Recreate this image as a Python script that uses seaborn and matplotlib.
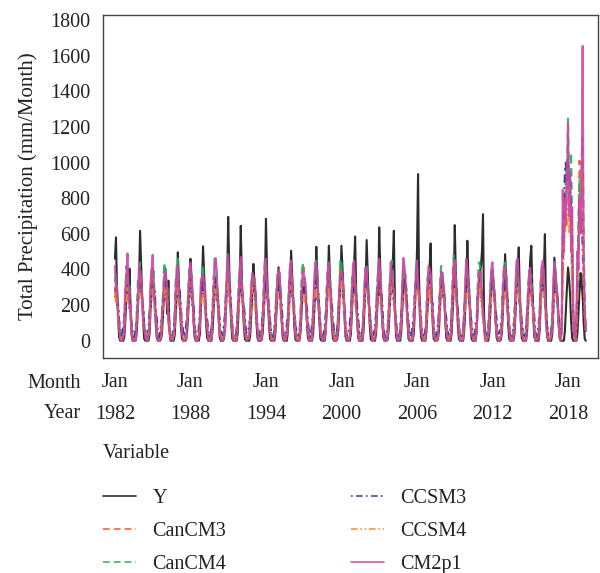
import numpy as np
import pandas as pd
import matplotlib
matplotlib.use("Agg")
import matplotlib.pyplot as plt
import seaborn as sns

# ---------------- data (monthly, Jan 1982 - Jun 2019), one row per year -------------
Y = [
    [460, 580, 300, 150, 20, 0, 0, 0, 0, 20, 120, 250],
    [280, 230, 404, 160, 30, 0, 0, 0, 5, 60, 200, 320],
    [617, 420, 250, 100, 10, 0, 0, 0, 0, 40, 180, 300],
    [380, 300, 220, 90, 15, 0, 0, 0, 10, 50, 160, 270],
    [404, 250, 150, 337, 60, 0, 0, 0, 0, 30, 150, 260],
    [496, 320, 200, 80, 10, 0, 0, 0, 5, 60, 170, 290],
    [460, 330, 250, 110, 20, 0, 0, 0, 0, 40, 190, 310],
    [530, 380, 220, 90, 15, 0, 0, 0, 0, 50, 160, 280],
    [330, 300, 260, 120, 20, 0, 0, 0, 10, 70, 200, 300],
    [695, 400, 230, 90, 10, 0, 0, 0, 0, 40, 180, 320],
    [645, 350, 200, 80, 10, 0, 0, 0, 0, 30, 150, 270],
    [431, 320, 250, 100, 15, 0, 0, 0, 5, 50, 170, 300],
    [684, 400, 220, 90, 10, 0, 0, 0, 0, 40, 160, 280],
    [412, 330, 260, 120, 20, 0, 0, 0, 0, 60, 190, 310],
    [505, 360, 230, 90, 10, 0, 0, 0, 5, 50, 170, 280],
    [300, 280, 240, 110, 20, 0, 0, 0, 0, 40, 160, 290],
    [527, 360, 230, 100, 10, 0, 0, 0, 0, 50, 180, 320],
    [533, 350, 210, 80, 10, 0, 0, 0, 10, 60, 200, 330],
    [533, 400, 280, 120, 20, 0, 0, 0, 0, 40, 170, 300],
    [420, 585, 300, 110, 15, 0, 0, 0, 0, 50, 190, 310],
    [565, 380, 220, 90, 10, 0, 0, 0, 0, 40, 160, 280],
    [636, 400, 240, 100, 15, 0, 0, 0, 5, 60, 180, 300],
    [380, 450, 617, 200, 30, 0, 0, 0, 0, 50, 170, 290],
    [350, 300, 240, 100, 10, 0, 0, 0, 0, 40, 180, 320],
    [500, 935, 350, 120, 20, 0, 0, 0, 0, 50, 170, 300],
    [400, 546, 260, 100, 10, 0, 0, 0, 5, 60, 190, 310],
    [380, 320, 250, 110, 15, 0, 0, 0, 0, 40, 160, 280],
    [649, 380, 230, 90, 10, 0, 0, 0, 0, 50, 180, 300],
    [561, 360, 250, 100, 15, 0, 0, 0, 0, 60, 200, 320],
    [380, 420, 500, 710, 150, 10, 0, 0, 0, 40, 170, 290],
    [400, 330, 260, 110, 15, 0, 0, 0, 5, 50, 180, 300],
    [486, 350, 230, 90, 10, 0, 0, 0, 0, 40, 170, 290],
    [380, 524, 280, 110, 15, 0, 0, 0, 0, 50, 190, 310],
    [460, 533, 300, 120, 20, 0, 0, 0, 0, 60, 200, 320],
    [350, 400, 598, 200, 30, 0, 0, 0, 0, 40, 170, 466],
    [380, 300, 250, 100, 15, 0, 0, 0, 0, 50, 180, 300],
    [411, 350, 260, 110, 15, 0, 0, 0, 0, 40, 160, 280],
    [380, 320, 250, 100, 10, 0],
]

CanCM3 = [
    [300, 220, 280, 150, 110, 40, 20, 10, 60, 90, 260, 310],
    [380, 250, 300, 120, 90, 20, 10, 30, 50, 160, 230, 350],
    [290, 330, 210, 170, 60, 40, 0, 20, 30, 100, 280, 300],
    [410, 260, 240, 130, 100, 30, 10, 0, 70, 150, 210, 360],
    [320, 300, 190, 180, 70, 50, 20, 10, 40, 120, 290, 280],
    [370, 240, 280, 110, 90, 20, 0, 20, 60, 140, 240, 390],
    [300, 340, 220, 160, 60, 40, 10, 0, 30, 100, 300, 320],
    [390, 230, 260, 120, 110, 30, 20, 10, 70, 170, 220, 340],
    [310, 320, 200, 190, 80, 50, 0, 20, 50, 110, 270, 300],
    [400, 250, 290, 130, 60, 20, 10, 0, 40, 150, 250, 380],
    [290, 330, 210, 170, 100, 40, 20, 10, 60, 130, 300, 310],
    [360, 270, 250, 110, 70, 30, 0, 20, 30, 160, 230, 400],
    [330, 300, 190, 180, 90, 50, 10, 0, 70, 100, 280, 290],
    [380, 240, 280, 140, 60, 20, 20, 10, 50, 140, 260, 350],
    [300, 350, 220, 160, 110, 40, 0, 20, 40, 120, 310, 320],
    [410, 260, 240, 120, 80, 30, 10, 0, 60, 170, 220, 370],
    [320, 310, 200, 190, 70, 50, 20, 10, 30, 110, 290, 300],
    [370, 250, 290, 130, 100, 20, 0, 20, 70, 150, 240, 420],
    [340, 330, 230, 170, 60, 40, 10, 0, 50, 130, 300, 310],
    [390, 260, 260, 110, 90, 30, 20, 10, 40, 160, 230, 360],
    [310, 320, 190, 180, 80, 50, 0, 20, 60, 100, 280, 330],
    [400, 240, 280, 140, 60, 20, 10, 0, 30, 150, 250, 350],
    [300, 340, 220, 160, 110, 40, 20, 10, 70, 120, 310, 380],
    [420, 270, 250, 120, 70, 30, 0, 20, 50, 170, 220, 340],
    [320, 310, 200, 190, 90, 50, 10, 0, 40, 110, 290, 300],
    [370, 250, 290, 130, 60, 20, 20, 10, 60, 140, 260, 390],
    [330, 330, 210, 170, 100, 40, 0, 20, 30, 130, 300, 320],
    [390, 260, 260, 110, 80, 30, 10, 0, 70, 160, 230, 360],
    [310, 320, 190, 180, 70, 50, 20, 10, 50, 100, 280, 310],
    [380, 240, 280, 140, 90, 20, 0, 20, 40, 150, 250, 370],
    [300, 340, 230, 160, 60, 40, 10, 0, 60, 120, 310, 340],
    [410, 270, 250, 120, 110, 30, 20, 10, 30, 170, 220, 350],
    [320, 310, 200, 190, 80, 50, 0, 20, 70, 110, 290, 300],
    [360, 250, 290, 130, 70, 20, 10, 0, 50, 140, 260, 380],
    [330, 330, 210, 170, 90, 40, 20, 10, 40, 130, 300, 320],
    [330, 280, 230, 120, 50, 20, 40, 400, 600, 700, 800, 900],
    [1000, 950, 800, 600, 400, 100, 30, 10, 60, 300, 600, 1010],
    [900, 800, 700, 500, 200, 80],
]

CanCM4 = [
    [330, 380, 240, 200, 90, 30, 10, 0, 40, 150, 280, 420],
    [360, 300, 310, 140, 70, 10, 0, 20, 60, 170, 350, 330],
    [440, 280, 250, 190, 100, 30, 0, 0, 30, 120, 300, 410],
    [350, 390, 220, 150, 60, 20, 10, 10, 50, 180, 270, 440],
    [400, 290, 300, 170, 80, 30, 0, 0, 40, 130, 340, 360],
    [460, 310, 230, 140, 90, 10, 0, 20, 60, 160, 290, 420],
    [340, 370, 270, 200, 70, 30, 10, 0, 30, 140, 320, 380],
    [430, 300, 240, 150, 100, 20, 0, 10, 50, 170, 360, 350],
    [470, 330, 290, 180, 60, 30, 0, 0, 40, 120, 280, 430],
    [370, 380, 220, 140, 80, 10, 10, 20, 60, 160, 330, 400],
    [420, 290, 260, 190, 90, 30, 0, 0, 30, 150, 300, 360],
    [350, 360, 300, 150, 70, 20, 0, 10, 50, 130, 350, 450],
    [440, 300, 230, 170, 100, 30, 10, 0, 40, 170, 270, 380],
    [380, 390, 280, 140, 60, 10, 0, 20, 60, 140, 320, 410],
    [410, 280, 250, 200, 80, 30, 0, 0, 30, 160, 360, 440],
    [360, 350, 300, 150, 90, 20, 10, 10, 50, 120, 290, 370],
    [450, 310, 220, 180, 70, 30, 0, 0, 40, 150, 330, 420],
    [390, 380, 270, 140, 100, 10, 0, 20, 60, 180, 300, 460],
    [440, 300, 290, 190, 60, 30, 10, 0, 30, 130, 350, 390],
    [370, 360, 240, 150, 80, 20, 0, 10, 50, 160, 280, 430],
    [420, 290, 260, 170, 90, 30, 0, 0, 40, 140, 320, 400],
    [380, 390, 300, 140, 70, 10, 10, 20, 60, 170, 340, 360],
    [450, 300, 230, 200, 100, 30, 0, 0, 30, 120, 300, 440],
    [360, 370, 280, 150, 60, 20, 0, 10, 50, 150, 270, 410],
    [430, 310, 250, 180, 80, 30, 10, 0, 40, 160, 350, 380],
    [390, 350, 300, 140, 90, 10, 0, 20, 60, 130, 310, 420],
    [410, 290, 220, 190, 70, 30, 0, 0, 30, 180, 360, 480],
    [460, 380, 270, 150, 100, 20, 10, 10, 50, 140, 290, 400],
    [370, 300, 290, 170, 60, 30, 0, 0, 40, 120, 330, 440],
    [420, 360, 240, 140, 80, 10, 0, 20, 60, 170, 300, 390],
    [380, 290, 260, 200, 90, 30, 10, 0, 30, 150, 340, 420],
    [440, 390, 300, 150, 70, 20, 0, 10, 50, 160, 280, 450],
    [400, 300, 230, 180, 100, 30, 0, 0, 40, 130, 320, 380],
    [360, 370, 280, 140, 60, 10, 10, 20, 60, 180, 350, 410],
    [430, 310, 250, 190, 80, 30, 0, 0, 30, 140, 300, 440],
    [400, 320, 250, 120, 40, 10, 50, 600, 800, 700, 1000, 900],
    [1247, 800, 900, 1057, 600, 100, 20, 0, 100, 400, 700, 900],
    [800, 1000, 1140, 600, 200, 50],
]

CCSM3 = [
    [240, 300, 200, 210, 120, 60, 30, 50, 80, 140, 180, 280],
    [310, 230, 260, 160, 100, 40, 20, 30, 90, 110, 250, 240],
    [280, 320, 210, 190, 80, 60, 40, 20, 70, 160, 200, 300],
    [250, 270, 290, 150, 130, 50, 20, 40, 100, 120, 260, 270],
    [330, 240, 220, 200, 90, 30, 30, 30, 60, 150, 190, 310],
    [260, 310, 270, 170, 110, 60, 20, 50, 90, 130, 280, 250],
    [300, 250, 200, 210, 80, 40, 40, 20, 80, 170, 210, 330],
    [270, 340, 260, 140, 120, 50, 20, 30, 70, 110, 240, 280],
    [350, 230, 230, 190, 100, 60, 30, 40, 100, 150, 270, 260],
    [260, 300, 280, 160, 90, 30, 20, 20, 60, 140, 200, 320],
    [310, 260, 210, 200, 130, 50, 40, 50, 90, 120, 290, 270],
    [280, 320, 250, 150, 80, 60, 20, 30, 80, 170, 220, 300],
    [340, 240, 270, 180, 110, 40, 30, 20, 70, 130, 250, 290],
    [270, 330, 220, 210, 100, 30, 20, 40, 100, 150, 210, 340],
    [300, 250, 260, 160, 90, 60, 40, 30, 60, 110, 280, 260],
    [320, 310, 200, 190, 120, 50, 20, 50, 90, 160, 230, 310],
    [350, 230, 280, 150, 80, 40, 30, 20, 80, 140, 200, 300],
    [280, 300, 240, 200, 110, 60, 20, 30, 70, 120, 270, 360],
    [370, 290, 210, 170, 100, 30, 40, 40, 100, 170, 250, 280],
    [300, 260, 270, 190, 130, 50, 20, 20, 60, 130, 220, 330],
    [270, 340, 230, 150, 80, 60, 30, 50, 90, 150, 290, 310],
    [330, 240, 260, 200, 90, 40, 20, 30, 80, 110, 210, 270],
    [290, 300, 200, 180, 120, 30, 40, 20, 70, 160, 240, 320],
    [310, 320, 280, 160, 100, 60, 20, 40, 100, 140, 260, 340],
    [280, 250, 250, 190, 110, 50, 30, 30, 60, 120, 190, 290],
    [340, 310, 220, 210, 80, 40, 20, 50, 90, 170, 280, 300],
    [300, 230, 270, 150, 130, 60, 40, 20, 80, 130, 220, 310],
    [290, 330, 240, 180, 90, 30, 20, 30, 70, 150, 250, 350],
    [360, 280, 200, 160, 100, 50, 30, 40, 100, 110, 270, 270],
    [270, 260, 290, 200, 110, 60, 20, 20, 60, 160, 200, 320],
    [320, 310, 230, 170, 120, 40, 40, 50, 90, 140, 290, 330],
    [300, 240, 260, 190, 80, 30, 20, 30, 80, 120, 230, 280],
    [280, 320, 210, 150, 100, 60, 30, 20, 70, 170, 240, 300],
    [340, 290, 270, 200, 130, 50, 20, 40, 100, 130, 260, 310],
    [310, 260, 220, 180, 90, 40, 30, 30, 60, 110, 210, 290],
    [300, 260, 220, 150, 80, 40, 60, 500, 700, 950, 1000, 900],
    [1010, 900, 950, 700, 500, 150, 50, 20, 80, 300, 500, 757],
    [600, 700, 500, 300, 150, 50],
]

CCSM4 = [
    [260, 220, 230, 110, 80, 20, 0, 10, 30, 60, 200, 230],
    [300, 200, 170, 140, 40, 10, 10, 0, 20, 110, 170, 280],
    [250, 270, 220, 100, 70, 30, 0, 10, 40, 80, 220, 220],
    [290, 210, 160, 130, 50, 10, 0, 0, 10, 120, 180, 300],
    [240, 280, 230, 110, 80, 20, 10, 10, 30, 70, 210, 240],
    [310, 200, 180, 150, 40, 30, 0, 0, 20, 100, 160, 270],
    [260, 260, 240, 100, 60, 10, 0, 10, 40, 90, 230, 230],
    [280, 220, 160, 120, 70, 20, 10, 0, 10, 120, 190, 290],
    [230, 290, 220, 140, 50, 30, 0, 10, 30, 60, 200, 260],
    [320, 210, 190, 100, 80, 10, 0, 0, 20, 110, 170, 250],
    [250, 270, 230, 130, 40, 20, 10, 10, 40, 80, 220, 300],
    [290, 200, 170, 110, 70, 30, 0, 0, 10, 130, 180, 240],
    [260, 280, 240, 150, 50, 10, 0, 10, 30, 70, 210, 280],
    [240, 230, 160, 100, 80, 20, 10, 0, 20, 100, 160, 260],
    [310, 260, 220, 140, 40, 30, 0, 10, 40, 90, 230, 230],
    [270, 210, 190, 120, 60, 10, 0, 0, 10, 120, 190, 310],
    [250, 290, 230, 100, 70, 20, 10, 10, 30, 60, 200, 250],
    [300, 200, 170, 150, 50, 30, 0, 0, 20, 110, 170, 270],
    [330, 270, 240, 110, 80, 10, 0, 10, 40, 80, 220, 240],
    [260, 220, 160, 130, 40, 20, 10, 0, 10, 130, 180, 290],
    [280, 280, 220, 100, 70, 30, 0, 10, 30, 70, 210, 260],
    [240, 210, 190, 140, 50, 10, 0, 0, 20, 100, 160, 300],
    [300, 260, 240, 120, 80, 20, 10, 10, 40, 90, 230, 230],
    [270, 230, 170, 100, 40, 30, 0, 0, 10, 120, 190, 280],
    [250, 290, 230, 150, 60, 10, 0, 10, 30, 60, 200, 250],
    [310, 200, 160, 110, 70, 20, 10, 0, 20, 110, 170, 300],
    [260, 270, 220, 130, 50, 30, 0, 10, 40, 80, 220, 240],
    [290, 220, 190, 100, 80, 10, 0, 0, 10, 130, 180, 270],
    [240, 280, 240, 140, 40, 20, 10, 10, 30, 70, 210, 290],
    [300, 210, 170, 120, 70, 30, 0, 0, 20, 100, 160, 250],
    [270, 260, 230, 100, 60, 10, 0, 10, 40, 90, 230, 280],
    [250, 230, 160, 150, 80, 20, 10, 0, 10, 120, 190, 260],
    [310, 290, 220, 110, 50, 30, 0, 10, 30, 60, 200, 240],
    [260, 200, 190, 130, 70, 10, 0, 0, 20, 110, 170, 300],
    [280, 270, 240, 100, 40, 20, 10, 10, 40, 80, 220, 260],
    [260, 220, 180, 100, 40, 10, 30, 300, 500, 600, 700, 650],
    [800, 600, 700, 500, 300, 80, 20, 0, 50, 250, 500, 700],
    [800, 950, 850, 400, 150, 50],
]

CM2p1 = [
    [420, 280, 310, 150, 90, 10, 0, 0, 20, 60, 300, 380],
    [490, 300, 180, 200, 40, 0, 0, 10, 0, 130, 220, 430],
    [360, 370, 250, 110, 70, 20, 0, 0, 30, 90, 330, 400],
    [482, 280, 200, 160, 30, 0, 0, 0, 10, 150, 240, 350],
    [390, 350, 280, 100, 60, 10, 0, 20, 40, 80, 310, 420],
    [411, 260, 190, 180, 50, 0, 0, 0, 10, 120, 230, 380],
    [440, 380, 260, 120, 40, 10, 0, 0, 30, 100, 340, 360],
    [370, 290, 300, 140, 80, 0, 0, 10, 0, 140, 260, 460],
    [460, 400, 220, 110, 30, 20, 0, 0, 20, 70, 300, 390],
    [485, 320, 180, 170, 60, 0, 0, 0, 10, 130, 250, 410],
    [470, 280, 260, 100, 50, 10, 0, 10, 30, 90, 320, 380],
    [360, 350, 290, 150, 70, 0, 0, 0, 20, 150, 280, 450],
    [460, 300, 190, 130, 40, 20, 0, 0, 10, 80, 230, 350],
    [400, 380, 250, 110, 60, 0, 0, 10, 30, 120, 310, 420],
    [450, 270, 210, 160, 30, 10, 0, 0, 0, 100, 260, 390],
    [380, 340, 300, 120, 80, 0, 0, 0, 20, 160, 340, 440],
    [430, 390, 200, 140, 40, 20, 0, 10, 10, 70, 240, 400],
    [440, 300, 260, 100, 60, 0, 0, 0, 30, 130, 300, 370],
    [390, 360, 280, 170, 50, 10, 0, 0, 20, 90, 270, 430],
    [450, 330, 190, 120, 30, 0, 0, 10, 0, 140, 330, 410],
    [410, 280, 250, 150, 70, 20, 0, 0, 10, 80, 230, 380],
    [460, 370, 210, 110, 40, 0, 0, 0, 30, 150, 290, 440],
    [380, 300, 290, 160, 80, 10, 0, 10, 20, 110, 320, 465],
    [420, 350, 200, 130, 30, 0, 0, 0, 10, 100, 250, 370],
    [450, 290, 270, 100, 60, 20, 0, 0, 0, 120, 310, 420],
    [400, 380, 220, 170, 50, 0, 0, 10, 30, 140, 270, 390],
    [370, 310, 280, 120, 70, 10, 0, 0, 20, 90, 300, 440],
    [455, 340, 190, 150, 40, 0, 0, 0, 10, 130, 340, 460],
    [410, 290, 260, 110, 30, 20, 0, 10, 0, 70, 240, 380],
    [390, 390, 230, 160, 80, 0, 0, 0, 30, 150, 290, 410],
    [440, 300, 270, 100, 50, 10, 0, 0, 20, 110, 260, 420],
    [400, 360, 200, 140, 60, 0, 0, 10, 10, 80, 320, 450],
    [460, 320, 280, 120, 30, 20, 0, 0, 0, 140, 250, 390],
    [410, 290, 210, 170, 70, 0, 0, 0, 30, 120, 300, 420],
    [450, 380, 260, 110, 40, 10, 0, 10, 20, 90, 330, 440],
    [380, 300, 220, 100, 30, 0, 100, 847, 500, 800, 650, 900],
    [1225, 700, 950, 500, 750, 200, 30, 0, 150, 500, 400, 800],
    [600, 900, 1655, 400, 150, 60],
]

variables = ["Y", "CanCM3", "CanCM4", "CCSM3", "CCSM4", "CM2p1"]
tables = [Y, CanCM3, CanCM4, CCSM3, CCSM4, CM2p1]
tick_years = [1982, 1988, 1994, 2000, 2006, 2012, 2018]

# ---------------- long-format table -------------
n_months = sum(len(r) for r in Y)
months = pd.date_range("1982-01-01", periods=n_months, freq="MS")
frames = []
for name, tab in zip(variables, tables):
    vals = [v for row in tab for v in row]
    frames.append(pd.DataFrame({"Date": months, "Value": vals, "Variable": name}))
df = pd.concat(frames, ignore_index=True)

# ---------------- style -------------
sns.set_theme(style="white")
plt.rcParams["font.family"] = ["Liberation Serif", "DejaVu Serif"]
plt.rcParams["text.color"] = "#222222"
plt.rcParams["axes.labelcolor"] = "#222222"

palette = {"Y": "#151515", "CanCM3": "#F5502E", "CanCM4": "#1DB152",
           "CCSM3": "#33329A", "CCSM4": "#FA9020", "CM2p1": "#CF48A6"}
dashes = {"Y": "", "CanCM3": (4, 2.5), "CanCM4": (4, 2.5),
          "CCSM3": (1, 2, 4, 2), "CCSM4": (4, 1.6, 1, 1.6, 1, 1.6), "CM2p1": ""}

fig = plt.figure(figsize=(6, 5.73), dpi=100)
ax = fig.add_axes([103 / 600, 1 - 358 / 573, 495 / 600, 343 / 573])

sns.lineplot(data=df, x="Date", y="Value", hue="Variable", style="Variable",
             hue_order=variables, style_order=variables,
             palette=palette, dashes=dashes, linewidth=1.5, alpha=0.9, ax=ax)

handles, labels = ax.get_legend_handles_labels()
ax.get_legend().remove()

ax.set_xlim(pd.Timestamp("1981-01-20"), pd.Timestamp("2020-05-20"))
ax.set_ylim(-97, 1828)
ax.set_yticks(range(0, 1801, 200))
tick_dates = [pd.Timestamp(f"{y}-01-01") for y in tick_years]
ax.set_xticks(tick_dates, labels=["Jan"] * len(tick_years))
ax.set_xticks(tick_dates, labels=[str(y) for y in tick_years], minor=True)
ax.xaxis.remove_overlapping_locs = False
ax.tick_params(axis="both", which="major", labelsize=14.5, direction="out",
               length=5, width=0.9, colors="#333333", labelcolor="#222222")
ax.tick_params(axis="y", pad=4)
ax.tick_params(axis="x", which="major", pad=5.5)
ax.tick_params(axis="x", which="minor", length=0, pad=33.5, labelsize=14.5,
               labelcolor="#222222")
ax.set_xlabel("")
ax.set_ylabel("Total Precipitation (mm/Month)", fontsize=15, labelpad=9)
for s in ax.spines.values():
    s.set_color("#444444")
    s.set_linewidth(1.0)
    s.set_visible(True)

fig.text(81 / 600, 1 - 383 / 573, "Month", ha="right", va="center", fontsize=14.5)
fig.text(81 / 600, 1 - 414 / 573, "Year", ha="right", va="center", fontsize=14.5)

fig.text(103 / 600, 1 - 454 / 573, "Variable", ha="left", va="center", fontsize=14.5)
leg = fig.legend(handles, labels, loc="upper left", ncol=2,
                 bbox_to_anchor=(103 / 600, 1 - 489 / 573), frameon=False,
                 fontsize=14.5, handlelength=1.65, handletextpad=0.8,
                 columnspacing=6.2, labelspacing=0.68, borderpad=0, borderaxespad=0)
for lh in leg.get_lines():
    lh.set_linewidth(1.2)

fig.savefig("out.png", dpi=100)
